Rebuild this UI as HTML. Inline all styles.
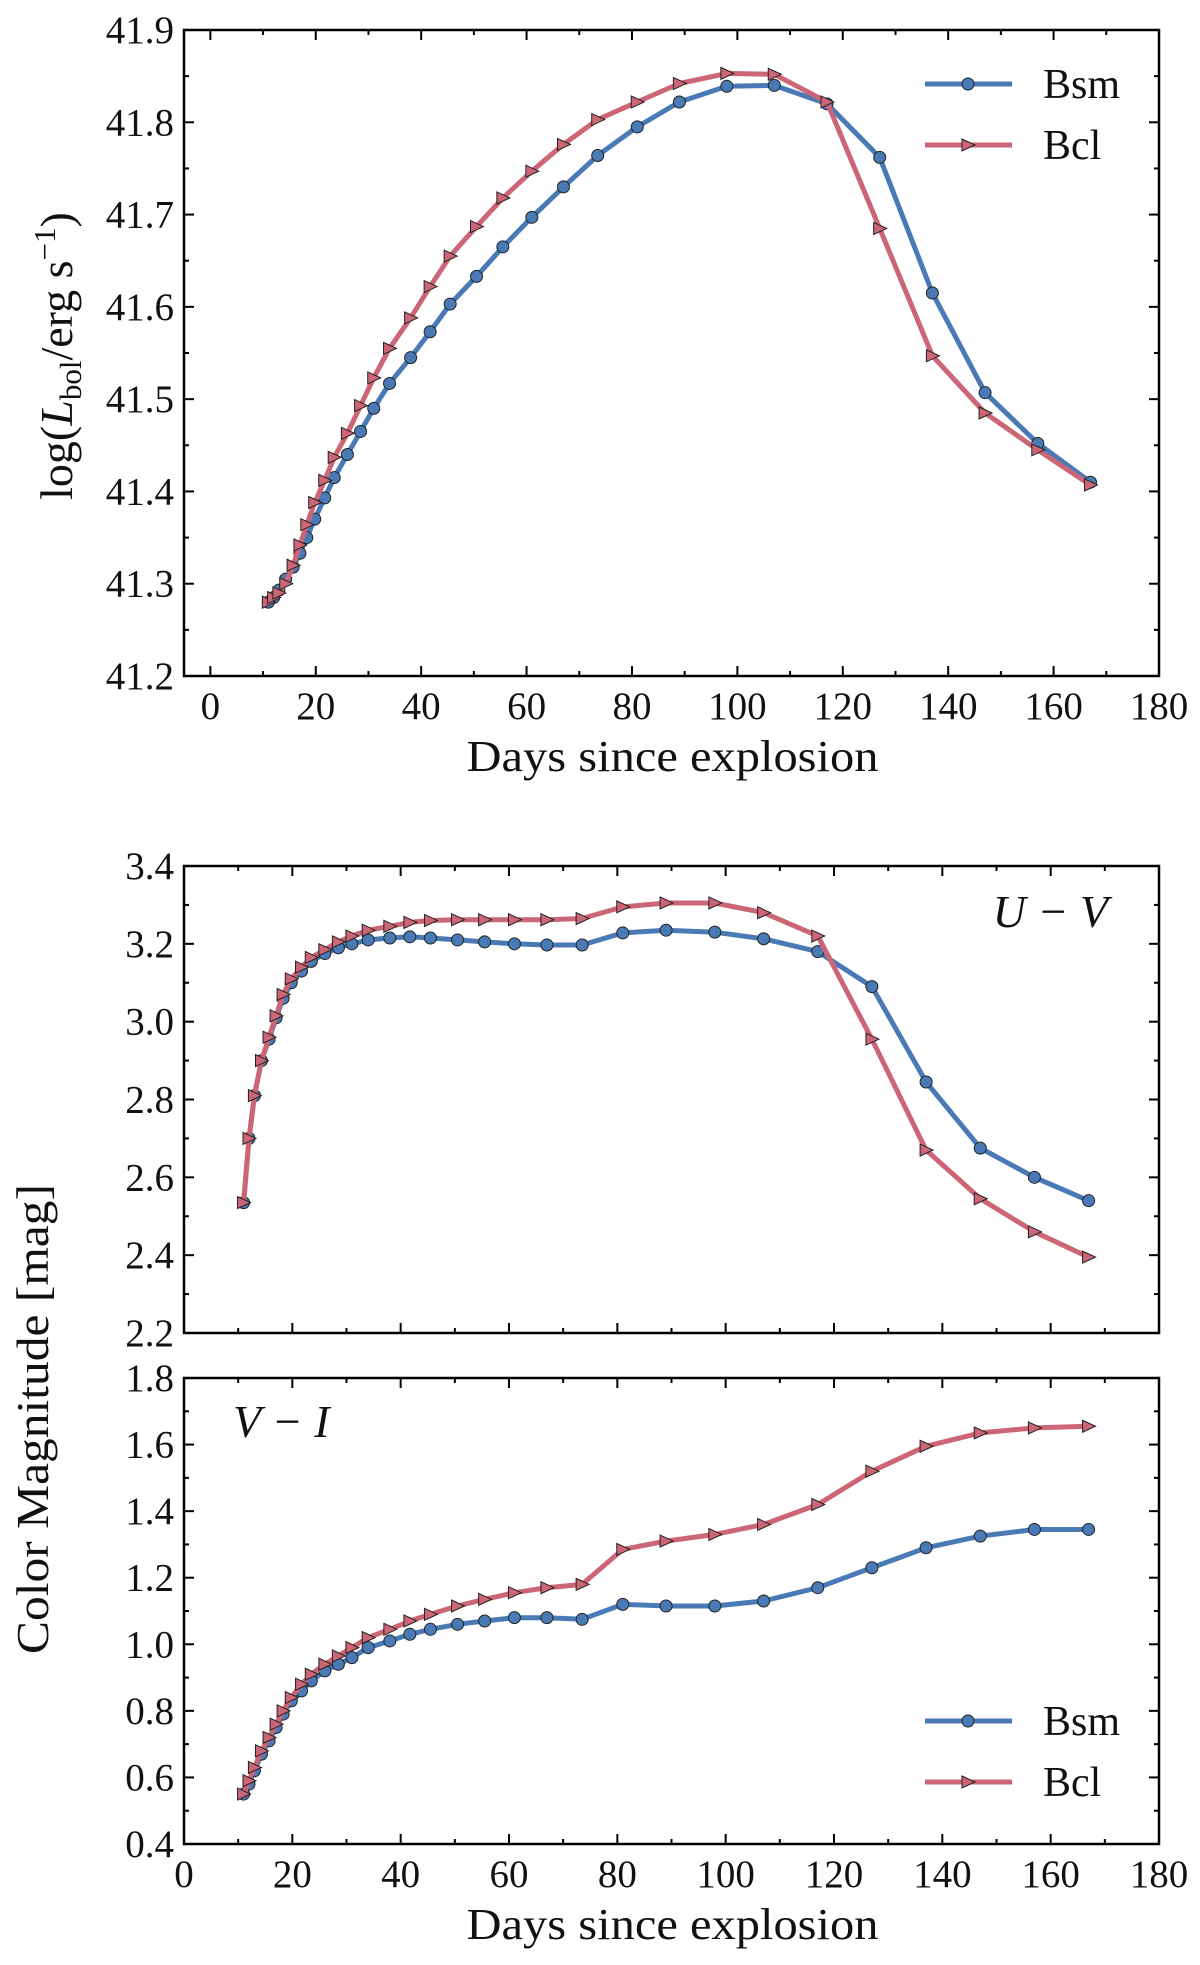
<!DOCTYPE html>
<html><head><meta charset="utf-8">
<style>
body{margin:0;background:#fff;}
svg{display:block;}
text{font-family:"Liberation Serif",serif;fill:#111;}
</style></head>
<body>
<svg id="fig" width="1200" height="1965" viewBox="0 0 1200 1965" xmlns="http://www.w3.org/2000/svg"></svg>
<script>
const days = [11,12,13,14.3,15.7,17,18.3,19.8,21.7,23.5,26,28.5,31,34,38,41.7,45.5,50.5,55.5,61,67,73.5,81,89,98,107,117,127,137,147,157,167];
const lbolBsm = [41.28,41.285,41.293,41.305,41.318,41.333,41.35,41.37,41.393,41.415,41.44,41.465,41.49,41.517,41.545,41.573,41.603,41.633,41.665,41.697,41.73,41.764,41.795,41.822,41.839,41.84,41.82,41.762,41.615,41.507,41.452,41.41];
const lbolBcl = [41.28,41.285,41.29,41.30,41.32,41.342,41.364,41.388,41.412,41.437,41.463,41.493,41.523,41.555,41.588,41.622,41.655,41.687,41.718,41.747,41.776,41.803,41.822,41.842,41.853,41.852,41.822,41.685,41.547,41.485,41.445,41.407];
const uvBsm = [2.535,2.70,2.81,2.90,2.955,3.01,3.06,3.10,3.13,3.155,3.175,3.19,3.20,3.21,3.215,3.218,3.215,3.21,3.205,3.2,3.197,3.197,3.228,3.235,3.23,3.213,3.18,3.09,2.845,2.675,2.6,2.54];
const uvBcl = [2.535,2.70,2.81,2.90,2.96,3.015,3.07,3.11,3.14,3.165,3.185,3.205,3.22,3.235,3.245,3.255,3.26,3.262,3.262,3.262,3.262,3.265,3.295,3.305,3.305,3.28,3.22,2.955,2.67,2.545,2.46,2.395];
const viBsm = [0.55,0.58,0.62,0.67,0.71,0.75,0.79,0.83,0.86,0.89,0.92,0.94,0.96,0.99,1.01,1.03,1.045,1.06,1.07,1.08,1.08,1.075,1.12,1.115,1.115,1.13,1.17,1.23,1.29,1.325,1.345,1.345];
const viBcl = [0.55,0.59,0.63,0.68,0.72,0.76,0.80,0.84,0.88,0.91,0.94,0.965,0.99,1.02,1.045,1.07,1.09,1.115,1.135,1.155,1.17,1.18,1.285,1.31,1.33,1.36,1.42,1.52,1.595,1.635,1.65,1.655];
const xTicks = [0,20,40,60,80,100,120,140,160,180];
const lbolTicks = ["41.2","41.3","41.4","41.5","41.6","41.7","41.8","41.9"];
const uvTicks = ["2.2","2.4","2.6","2.8","3.0","3.2","3.4"];
const viTicks = ["0.4","0.6","0.8","1.0","1.2","1.4","1.6","1.8"];

const NS="http://www.w3.org/2000/svg";
const svg=document.getElementById('fig');
const BLUE="#4a7ab5", RED="#cc6677";
function mk(tag,attrs,parent){const e=document.createElementNS(NS,tag);for(const k in attrs)e.setAttribute(k,attrs[k]);(parent||svg).appendChild(e);return e;}

function panel(name,L,R,T,B,xmin,xmax,ymin,ymax,yTicks,yMinorStep,xLabels,series){
  const g=mk('g',{});
  
  
  const sx=v=>L+(v-xmin)/(xmax-xmin)*(R-L);
  const sy=v=>B-(v-ymin)/(ymax-ymin)*(B-T);
  for(let v=0;v<=180;v+=10){
    const x=sx(v); if(x<L-0.5||x>R+0.5)continue;
    const len=(v%20===0)?10:5;
    const t1=mk('line',{x1:x,y1:B,x2:x,y2:B-len,stroke:'#000','stroke-width':2},g);
    
    
    mk('line',{x1:x,y1:T,x2:x,y2:T+len,stroke:'#000','stroke-width':2},g);
  }
  for(let v=ymin;v<=ymax+1e-9;v+=yMinorStep){
    const y=sy(v);
    const idx=Math.round((v-ymin)/yMinorStep);
    const len=(idx%2===0)?10:5;
    mk('line',{x1:L,y1:y,x2:L+len,y2:y,stroke:'#000','stroke-width':2},g);
    mk('line',{x1:R,y1:y,x2:R-len,y2:y,stroke:'#000','stroke-width':2},g);
  }
  yTicks.forEach(s=>{
    const t=mk('text',{x:L-10,y:sy(parseFloat(s))+13,'text-anchor':'end','font-size':39},g);
    t.textContent=s;
    
    
  });
  if(xLabels){
    xTicks.forEach(v=>{
      const t=mk('text',{x:sx(v),y:B+43,'text-anchor':'middle','font-size':39},g);
      t.textContent=String(v);
      
      
    });
    const xl=mk('text',{x:(L+R)/2+1,y:B+95,'text-anchor':'middle','font-size':44,textLength:412,lengthAdjust:'spacingAndGlyphs'},g);
    xl.textContent='Days since explosion';
    
    
  }
  series.forEach(s=>{
    const pts=days.map((d,i)=>sx(d).toFixed(1)+','+sy(s.vals[i]).toFixed(1)).join(' ');
    const pl=mk('polyline',{points:pts,fill:'none',stroke:s.color,'stroke-width':5,'stroke-linejoin':'round'},g);
    
    
    days.forEach((d,i)=>{
      const x=sx(d),y=sy(s.vals[i]);
      let m;
      if(s.marker==='o') m=mk('circle',{cx:x,cy:y,r:6,fill:s.color,stroke:'#222','stroke-width':1},g);
      else m=mk('polygon',{points:`${x-6},${y-6} ${x+7},${y} ${x-6},${y+6}`,fill:s.color,stroke:'#222','stroke-width':1},g);
      
      
    });
  });
  const fr=mk('rect',{x:L,y:T,width:R-L,height:B-T,fill:'none',stroke:'#000','stroke-width':2.5},g);
  
  
  return g;
}
function legend(y0){
  [[BLUE,'o','Bsm'],[RED,'t','Bcl']].forEach((e,i)=>{
    const y=y0+i*61;
    const g=mk('g',{});
    
    
    mk('line',{x1:925,y1:y,x2:1012,y2:y,stroke:e[0],'stroke-width':5},g);
    if(e[1]==='o') mk('circle',{cx:968,cy:y,r:6,fill:e[0],stroke:'#222','stroke-width':1},g);
    else mk('polygon',{points:`962,${y-6} 975,${y} 962,${y+6}`,fill:e[0],stroke:'#222','stroke-width':1},g);
    const t=mk('text',{x:1043,y:y+14,'font-size':42},g);
    t.textContent=e[2];
  });
}
panel('lbol-panel',184,1159,30,676,-5,180,41.2,41.9,lbolTicks,0.05,true,
  [{name:'bsm',vals:lbolBsm,color:BLUE,marker:'o'},{name:'bcl',vals:lbolBcl,color:RED,marker:'t'}]);
legend(84);
panel('uv-panel',184,1159,866,1333,0,180,2.2,3.4,uvTicks,0.1,false,
  [{name:'bsm',vals:uvBsm,color:BLUE,marker:'o'},{name:'bcl',vals:uvBcl,color:RED,marker:'t'}]);
panel('vi-panel',184,1159,1378,1844,0,180,0.4,1.8,viTicks,0.1,true,
  [{name:'bsm',vals:viBsm,color:BLUE,marker:'o'},{name:'bcl',vals:viBcl,color:RED,marker:'t'}]);
legend(1721);

let t=mk('text',{x:0,y:0,'font-size':46,transform:'translate(72,356) rotate(-90)','text-anchor':'middle'});
t.innerHTML='log(<tspan font-style="italic">L</tspan><tspan font-size="31" dy="9">bol</tspan><tspan dy="-9">/erg s</tspan><tspan font-size="31" dy="-17">−1</tspan><tspan dy="17">)</tspan>';


t=mk('text',{x:0,y:0,'font-size':46,transform:'translate(48,1419) rotate(-90)','text-anchor':'middle',textLength:470,lengthAdjust:'spacingAndGlyphs'});
t.textContent='Color Magnitude [mag]';


t=mk('text',{x:1108,y:927,'font-size':46,'font-style':'italic','text-anchor':'end'});
t.textContent='U − V';


t=mk('text',{x:233,y:1437,'font-size':46,'font-style':'italic'});
t.textContent='V − I';


</script>
</body></html>
